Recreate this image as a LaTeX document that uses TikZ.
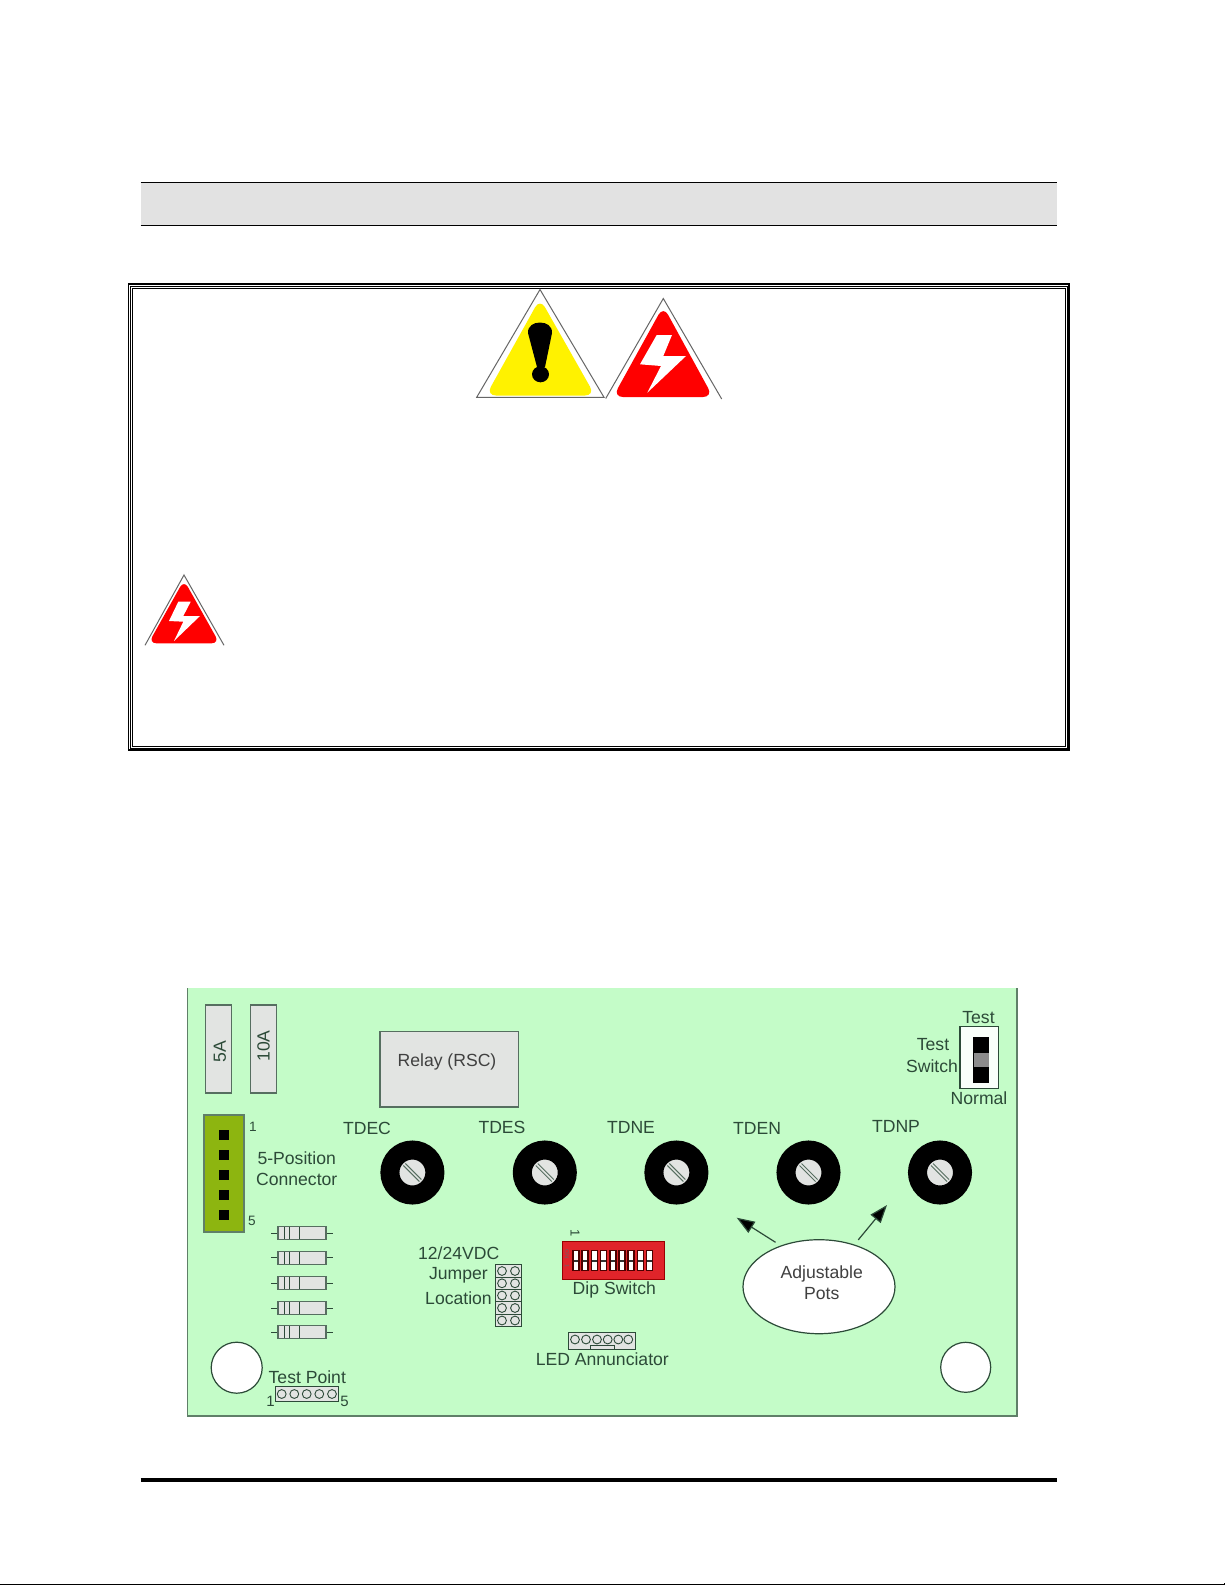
\documentclass[tikz,border=0pt]{standalone}
\usepackage{fontspec}
\setmainfont{Liberation Sans}
\usetikzlibrary{shapes.geometric,arrows.meta,calc}
\definecolor{board}{HTML}{C4FCC8}
\definecolor{edgeg}{HTML}{5F7F68}
\definecolor{partg}{HTML}{E2E4E2}
\definecolor{bandg}{HTML}{E2E2E2}
\definecolor{lbl}{HTML}{2C4A38}
\definecolor{conng}{HTML}{8DB510}
\definecolor{dipred}{HTML}{E0242A}
\tikzset{
  lab/.style={font=\fontsize{8.8}{10}\selectfont,text=lbl,inner sep=0pt},
  smalllab/.style={font=\fontsize{6.8}{8}\selectfont,text=lbl,inner sep=0pt},
  part/.style={draw=lbl!80,fill=partg,line width=.6pt},
  pin/.style={draw=none,fill=black,minimum size=5pt,inner sep=0pt,shape=rectangle},
  pot/.style={circle,draw=black,line width=9.5pt,fill=partg,minimum size=22.5pt,inner sep=0pt},
  hole/.style={circle,draw=lbl,fill=white,line width=.6pt,inner sep=0pt},
  pad/.style={circle,draw=lbl,fill=partg,line width=.45pt,minimum size=4.4pt,inner sep=0pt},
  hdr/.style={draw=lbl,fill=partg,line width=.5pt},
  tri/.style={draw=black!60,line width=.5pt,line join=miter},
  bolt/.style={fill=white,draw=none},
  arr/.style={draw=lbl,line width=.6pt,shorten <=3pt,-{Stealth[inset=0pt,length=9pt,width=6.5pt,fill=black]}},
}
\newcommand{\resist}[2]{%
  \draw[lbl,line width=.5pt] (271,#1) -- (333,#1);
  \node[part,rectangle,minimum width=24pt,minimum height=6.5pt,inner sep=0pt] (#2) at (302,#1) {};
  \foreach \xx in {284.3,289.5,299} \draw[lbl,line width=.5pt] (\xx,#1-6) -- (\xx,#1+6);
}
\newcommand{\pott}[5]{%
  \node[pot] (#2) at (#1,1172.5) {};
  \draw[lbl!80,line width=.5pt] ($(#1,1172.5)+(-9,-7)$) -- ($(#1,1172.5)+(7,9)$);
  \draw[lbl!80,line width=.5pt] ($(#1,1172.5)+(-7,-9)$) -- ($(#1,1172.5)+(9,7)$);
  \node[lab] (#2t) at (#3,#4) {#5};
}
\begin{document}
\begin{tikzpicture}[x=0.5pt,y=-0.5pt]
\useasboundingbox (0,0) rectangle (1225,1585);
\fill[white] (0,0) rectangle (1225,1585);
% heading band
\fill[bandg] (140.5,182.5) rectangle (1056.5,225.5);
\draw[black,line width=.5pt] (140.5,182.5) -- (1056.5,182.5);
\draw[black,line width=.5pt] (140.5,225.5) -- (1056.5,225.5);
% warning frame
\draw[black,line width=.6pt] (128.5,284) rectangle (1069,750);
\draw[black,line width=.5pt] (130.5,286) rectangle (1067,748);
\draw[black,line width=.5pt] (132.5,288) rectangle (1065,746);
% yellow triangle
\fill[white] (540,289.5) -- (476.7,397.3) -- (604,397.3) -- cycle;
\draw[tri] (540,289.5) -- (476.7,397.3) -- (604,397.3) -- cycle;
\fill[yellow,rounded corners=5pt] (540,298.5) -- (486,395.5) -- (595,395.5) -- cycle;
\fill[black] (528,333) .. controls (527,319) and (553,319) .. (552,333) -- (545,367) -- (537,367) -- cycle;
\fill[black] (540.5,374.3) ellipse (8.5 and 8);
% red triangle
\draw[tri] (605.7,398.5) -- (663.3,298.5) -- (721.7,399);
\fill[red,rounded corners=5pt] (663.3,306) -- (613,397) -- (713,397) -- cycle;
\fill[bolt] (656.7,335) -- (672,335) -- (663.3,356) -- (686,356) -- (647.3,392.7) -- (661,366) -- (640,364.3) -- cycle;
% small red triangle
\draw[tri] (145,645.3) -- (184,575) -- (224,645.3);
\fill[red,rounded corners=4pt] (184,580) -- (148.5,643.3) -- (219.5,643.3) -- cycle;
\fill[bolt] (178.3,601.7) -- (190.7,601.7) -- (183.3,616) -- (200,616) -- (174,641) -- (183.3,621.7) -- (169,621) -- cycle;
% board
\fill[board] (187.5,988) rectangle (1017,1416);
\draw[edgeg,line width=.8pt] (187.5,988) -- (187.5,1416) -- (1017,1416) -- (1017,988);
% fuses, relay
\node[part,rectangle,minimum width=13pt,minimum height=44pt,inner sep=0pt] (f5) at (218.5,1049) {};
\node[lab,rotate=90] (f5t) at (220,1052) {5A};
\node[part,rectangle,minimum width=13pt,minimum height=44pt,inner sep=0pt] (f10) at (263.5,1049) {};
\node[lab,rotate=90] (f10t) at (263.5,1046) {10A};
\node[part,rectangle,minimum width=69.3pt,minimum height=37.6pt,inner sep=0pt] (rel) at (449.3,1069.3) {};
\node[lab,text=black!75] (relt) at (447,1061.5) {Relay (RSC)};
% connector
\node[draw=edgeg,fill=conng,line width=.6pt,rectangle,minimum width=20pt,minimum height=58.5pt,inner sep=0pt] (conn) at (224,1173.5) {};
\node[pin] (p1) at (224,1134.7) {};
\node[pin] (p2) at (224,1154.7) {};
\node[pin] (p3) at (224,1174.7) {};
\node[pin] (p4) at (224,1195) {};
\node[pin] (p5) at (224,1215) {};
\node[smalllab] (c1) at (253,1127) {1};
\node[smalllab] (c5) at (252,1221) {5};
\node[lab] (cona) at (296.7,1158) {5-Position};
\node[lab] (conb) at (296.7,1179) {Connector};
% pots
\pott{412.4}{pa}{367}{1128}{TDEC}
\pott{544.8}{pb}{502}{1127}{TDES}
\pott{676.4}{pc}{631}{1127}{TDNE}
\pott{808.5}{pd}{757}{1128}{TDEN}
\pott{940}{pe}{896}{1126}{TDNP}
% resistors
\resist{1233.3}{ra}
\resist{1257.7}{rb}
\resist{1283}{rc}
\resist{1308}{rd}
\resist{1332}{re}
% jumper
\draw[hdr] (495.7,1264.3) rectangle (521.3,1326.7);
\foreach \yy/\nn in {1271/a,1283.3/b,1295.5/c,1308/d,1320.5/e}{
  \draw[lbl,line width=.4pt] (495.7,\yy+6.2) -- (521.3,\yy+6.2);
  \node[pad] (j1\nn) at (502,\yy) {};
  \node[pad] (j2\nn) at (515,\yy) {};
}
\node[lab] (ja) at (458.7,1253.6) {12/24VDC};
\node[lab] (jb) at (458.5,1275) {Jumper};
\node[lab] (jc) at (458.5,1298.6) {Location};
% holes
\node[hole,minimum size=25.5pt] (ha) at (236.7,1367.7) {};
\node[hole,minimum size=25pt] (hb) at (965.7,1367.3) {};
% test point
\node[lab] (tp) at (307.3,1377) {Test Point};
\draw[hdr] (275.3,1386) rectangle (338.3,1401);
\foreach \xx/\nn in {281.7/a,294.3/b,306.7/c,319.3/d,332/e}
  \node[pad] (t\nn) at (\xx,1394) {};
\node[lab,font=\fontsize{7.5}{9}\selectfont] (t1) at (270.5,1401) {1};
\node[lab,font=\fontsize{7.5}{9}\selectfont] (t5) at (344.5,1401) {5};
% dip switch
\node[draw=red!60!black,fill=dipred,line width=.5pt,rectangle,minimum width=51pt,minimum height=18.8pt,inner sep=0pt] (dip) at (613,1260.2) {};
\foreach \xx in {576,585.2,594.4,603.6,612.8,622,631.2,640.4,649.6}{
  \fill[red!30!black] (\xx-3.8,1249.5) rectangle (\xx+3.8,1271);
  \fill[white] (\xx-2.2,1250.5) rectangle (\xx+2.2,1270);
  \draw[black!80,line width=.6pt] (\xx-2.2,1261) -- (\xx+2.2,1261);
}
\node[font=\fontsize{3}{3}\selectfont,text=black!60,rotate=-90,inner sep=0pt] (don) at (567,1254) {ON};
\node[font=\fontsize{3}{3}\selectfont,text=black!60,rotate=-90,inner sep=0pt] (dnum) at (567,1266) {1};
\node[font=\fontsize{6.5}{7}\selectfont,text=lbl,rotate=-90,inner sep=0pt] (done) at (575,1233) {1};
\node[lab] (dipt) at (614.3,1290) {Dip Switch};
% LED
\draw[hdr] (568.3,1332.7) rectangle (635,1349);
\foreach \xx/\nn in {575/a,586/b,597/c,607.7/d,618.3/e,628.3/f}
  \node[pad] (l\nn) at (\xx,1339.5) {};
\draw[lbl,line width=.5pt] (590,1349) -- (590,1345.5) -- (614,1345.5) -- (614,1349);
\node[lab] (ledt) at (602.3,1359) {LED Annunciator};
% adjustable pots
\node[ellipse,draw=lbl,fill=white,line width=.6pt,minimum width=76pt,minimum height=47pt,inner sep=0pt] (ell) at (819,1286.7) {};
\node[lab,text=black!75] (ella) at (821.7,1273.5) {Adjustable};
\node[lab,text=black!75] (ellb) at (821.7,1294) {Pots};
\coordinate (tipa) at (736.7,1217.7);
\coordinate (tipb) at (887,1205);
\draw[arr] (ell.133) -- (tipa);
\draw[arr] (ell.50) -- (tipb);
% test switch
\node[draw=lbl,fill=white!90!board,line width=.6pt,rectangle,minimum width=19.3pt,minimum height=31pt,inner sep=0pt] (sw) at (979.3,1057.3) {};
\fill[black] (972.7,1036.7) rectangle (989.3,1083.3);
\node[fill=black!45,draw=none,rectangle,minimum width=7.7pt,minimum height=7pt,inner sep=0pt] (slid) at (981.7,1059.7) {};
\node[lab] (swa) at (978.5,1018) {Test};
\node[lab] (swb) at (933,1045) {Test};
\node[lab] (swc) at (932,1066) {Switch};
\node[lab] (swd) at (979,1098) {Normal};
% footer rule
\draw[black,line width=2pt] (140.5,1479.8) -- (1057,1479.8);
\draw[black,line width=.8pt] (0,1584.5) -- (1224.3,1584.5) -- (1224.3,1583);
\end{tikzpicture}
\end{document}
